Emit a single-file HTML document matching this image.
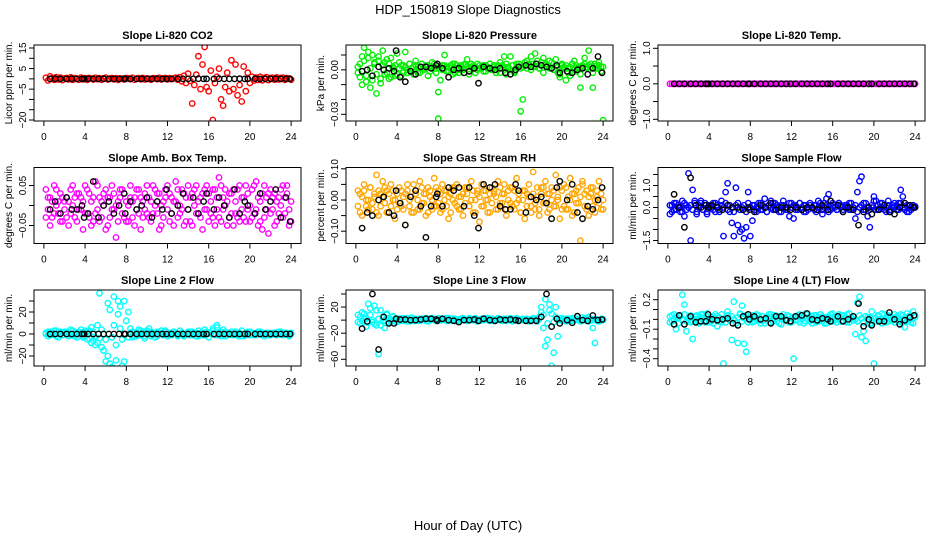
<!DOCTYPE html>
<html><head><meta charset="utf-8"><style>
html,body{margin:0;padding:0;background:#fff;}
svg{display:block;font-family:"Liberation Sans",Arial,sans-serif;}
</style></head><body>
<svg id="chart" width="936" height="540" viewBox="0 0 936 540" xmlns="http://www.w3.org/2000/svg">
<text x="468" y="14" font-size="13" text-anchor="middle">HDP_150819  Slope Diagnostics</text>
<text x="468" y="530" font-size="13" text-anchor="middle">Hour of Day (UTC)</text>
</svg>
<script>
const hoursColored=[0.2,0.4,0.6,0.8,1.0,1.2,1.4,1.6,1.8,2.0,2.2,2.4,2.6,2.8,3.0,3.2,3.4,3.6,3.8,4.0,4.2,4.4,4.6,4.8,5.0,5.2,5.4,5.6,5.8,6.0,6.2,6.4,6.6,6.8,7.0,7.2,7.4,7.6,7.8,8.0,8.2,8.4,8.6,8.8,9.0,9.2,9.4,9.6,9.8,10.0,10.2,10.4,10.6,10.8,11.0,11.2,11.4,11.6,11.8,12.0,12.2,12.4,12.6,12.8,13.0,13.2,13.4,13.6,13.8,14.0,14.2,14.4,14.6,14.8,15.0,15.2,15.4,15.6,15.8,16.0,16.2,16.4,16.6,16.8,17.0,17.2,17.4,17.6,17.8,18.0,18.2,18.4,18.6,18.8,19.0,19.2,19.4,19.6,19.8,20.0,20.2,20.4,20.6,20.8,21.0,21.2,21.4,21.6,21.8,22.0,22.2,22.4,22.6,22.8,23.0,23.2,23.4,23.6,23.8,24.0];
const hoursBlack=[0.6,1.1,1.6,2.2,2.7,3.2,3.7,3.9,4.3,4.8,5.3,5.8,6.3,6.8,7.3,7.8,7.9,8.4,9.0,9.5,10.0,10.5,11.0,11.5,11.9,12.4,13.0,13.5,14.0,14.5,15.0,15.5,15.8,16.5,17.0,17.5,18.0,18.5,19.0,19.5,19.8,20.5,21.0,21.5,22.0,22.5,23.0,23.5,23.9];
const xTicks=[0,4,8,12,16,20,24];

const co2A=[0.5,-0.8,1.2,0.3,-0.5,0.8,-0.3,0.6,-0.6,0.2,0.4,-0.2,0.7,-0.5,0.3,0.1,-0.4,0.6,-0.2,0.3,-0.5,0.4,0.2,-0.3,0.5,-0.1,0.3,-0.4,0.2,0.6,-0.3,0.1,0.4,-0.2,0.3,-0.5,0.2,0.1,-0.3,0.4,0.2,-0.1,0.5,-0.4,0.1,0.3,-0.2,0.4,-0.3,0.2,0.1,-0.4,0.3,0.2,-0.1,0.5,-0.3,0.2,0.4,-0.2,0.3,-0.1,0.2,0.6,-0.4,0.8,-1.2,1.5,-2,2.5,-1,-12,-3,2,11,-5,7,15.5,-4,-6,4,-20,-2,1,5,-10,-13,-4,3,-6,9,-5,7,-8,-3,-11,6,-6,3,-2,1,-0.8,0.6,-0.5,1,-0.7,0.4,0.8,-0.6,0.3,0.5,-0.4,0.7,-0.3,0.4,0.6,-0.5,0.3,0.2,-0.4];
const co2K=[0,0.1,0,0,0.1,0,0,0,0.1,0,0,0.1,0,0,0,0.1,0,0,0,0.1,0,0,0.1,0,0,0,0.1,0,0,0,0.1,0,0,0,0.1,0,0,0,0.1,0,0,0.1,0,0,0,0.1,0,0,0];

const presA=[.002,-.005,.009,.015,-.008,.012,-.012,.010,.004,-.016,.006,-.009,.013,-.003,.007,-.006,.008,.002,-.004,.011,.005,-.004,.003,.012,-.002,.004,.001,-.003,.006,.002,-.002,.004,.001,.003,-.004,.002,.005,.001,-.002,-.033,-.007,.003,.010,.002,-.001,.003,-.003,.004,.001,-.002,.003,.000,.004,.007,-.001,.002,.003,-.002,.004,.001,.002,-.001,.003,.001,.004,.000,.002,-.002,.003,.005,.001,.009,-.003,.002,.009,.003,-.001,.004,.002,-.028,-.020,.003,.006,.004,.009,.002,.011,.004,.001,.005,.008,.003,.002,.006,.001,.004,.007,-.002,-.005,.003,.002,-.007,.001,-.004,.004,.006,-.001,.002,-.012,.003,.008,.002,.013,.004,-.012,.001,.003,.005,.002,-.034];
const presB=[-.002,.004,-.010,.006,-.004,.008,.001,-.007,.005,-.003,.009,-.006,.003,.005,-.002,.004,-.005,.001,.003,-.003,.001,.003,-.002,.002,.000,.004,-.001,.002,.003,-.002,.001,.004,.000,.002,.003,-.001,.002,.004,.001,-.015,.002,.000,.003,-.001,.002,.001,.004,-.002,.003,.000,.002,.001,.003,.002,-.003,.004,.001,.002,.000,.003,.001,.003,-.001,.002,.004,.001,.003,.000,.002,-.002,.003,.002,.004,.001,.000,.003,-.002,.002,.004,.001,.002,.005,.001,.003,.000,.004,.002,.006,.001,.003,-.002,.004,.002,.001,.005,.000,.003,.002,-.003,.004,.001,.003,-.002,.002,.004,.000,.003,.001,-.003,.002,.004,.001,.003,.002,-.002,.004,.001,.003,-.001,.002];
const presK=[-.001,.000,-.004,.002,.000,.001,-.001,.013,-.005,-.008,-.001,-.003,.002,.002,.001,.003,.004,.001,-.005,.000,.001,-.002,-.001,.001,-.009,.002,.001,.000,.001,-.002,-.003,.000,.002,.003,.002,.004,.003,.002,.001,.003,-.002,-.001,-.002,.000,.001,-.003,.001,.009,-.002];

const tempA=[0,0,0,0,0,0,0,0,0,0,0,0,0,0,0,0,0,0,0,0,0,0,0,0,0,0,0,0,0,0,0,0,0,0,0,0,0,0,0,0,0,0,0,0,0,0,0,0,0,0,0,0,0,0,0,0,0,0,0,0,0,0,0,0,0,0,0,0,0,0,0,0,0,0,0,0,0,0,0,0,0,0,0,0,0,0,0,0,0,0,0,0,0,0,0,0,0,0,0,0,0,0,0,0,0,0,0,0,0,0,0,0,0,0,0,0,0,0,0,0];
const tempK=[0,0,0,0,0,0,0,0,0,0,0,0,0,0,0,0,0,0,0,0,0,0,0,0,0,0,0,0,0,0,0,0,0,0,0,0,0,0,0,0,0,0,0,0,0,0,0,0,0];

const boxA=[.04,-.01,.02,-.03,.05,.00,-.02,.03,-.04,.01,.02,-.05,.04,.00,-.03,.03,-.01,.02,-.06,.05,-.02,.03,.01,-.04,.06,-.01,.02,-.03,.00,.04,-.05,.02,-.01,.03,-.08,.01,.04,-.02,.03,-.04,.00,.05,-.03,.02,-.01,.04,-.06,.01,.03,-.02,.02,-.04,.05,.00,-.02,.03,-.05,.01,.04,-.01,.03,-.02,.01,.06,-.03,.00,.04,-.05,.02,-.01,-.04,.03,.00,.05,-.02,.02,-.06,.04,-.01,.03,.01,-.03,.04,-.01,.07,-.04,.02,.00,-.05,.03,-.02,.04,.01,-.03,.05,-.01,.02,-.04,.03,.00,.04,-.02,.06,-.05,.01,.03,-.03,.02,-.07,.04,-.01,.03,-.04,.02,.00,.05,-.02,.03,-.05,.01];
const boxB=[-.03,.02,-.05,.01,-.02,.04,.01,-.04,.02,-.01,-.03,.01,-.02,.05,.02,-.04,.03,-.01,.01,-.02,.04,-.03,-.05,.02,-.02,.05,-.04,.01,.03,-.06,.02,-.03,.05,-.01,.00,-.04,.02,.04,-.03,.01,-.04,.02,.01,-.05,.04,-.02,.02,-.03,-.01,.05,-.03,.01,-.02,.04,.03,-.06,.00,-.03,.02,.05,-.04,.02,-.05,.01,.04,-.02,-.01,.03,-.04,.05,.02,-.05,.04,-.02,.01,-.03,.03,-.01,.05,-.04,-.02,.04,-.05,.02,-.03,.05,-.01,.04,.01,-.03,.03,-.05,-.02,.04,-.04,.02,-.03,.05,-.01,-.04,-.03,.05,-.01,.02,-.04,-.06,.05,-.01,.03,-.02,.02,-.05,.01,-.02,.04,-.03,.02,.05,-.01,-.04];
const boxK=[-.01,.01,-.02,.02,-.01,-.01,.00,-.03,-.02,.06,-.03,.00,.01,-.02,.00,.03,-.02,.01,-.01,.00,.02,-.03,.01,-.01,.04,-.02,.00,.03,-.01,.02,-.02,.01,.03,-.01,.02,.00,-.03,.04,-.02,.01,.00,-.02,.03,-.01,.01,.04,-.03,.02,-.04];

const rhA=[.03,-.04,.01,.05,-.02,.00,.04,-.03,.02,.08,-.05,.02,.06,-.01,.03,-.04,.05,.00,-.06,.02,.04,-.02,.01,-.08,.03,.00,-.04,.05,.02,-.03,.06,-.01,.02,-.05,.04,.01,-.03,.07,-.02,.03,-.04,.05,.00,.03,-.06,.02,.04,-.01,.05,-.03,.01,-.05,.04,.02,-.02,.06,-.04,.00,.03,-.07,.05,-.02,.03,.00,-.04,.04,.02,-.03,.06,-.01,.02,.05,-.05,.03,-.01,.04,-.03,.07,.00,-.04,.03,-.06,.02,.05,-.02,.09,-.03,.01,-.05,.04,-.01,.06,-.04,.02,.04,-.02,.08,.00,-.06,.03,.05,-.03,.01,.07,-.05,.02,-.01,.04,-.13,.06,-.02,.03,-.05,.02,.04,-.04,.01,.06,-.03,.00];
const rhB=[-.02,.02,-.05,.03,.00,-.03,.04,-.01,.01,-.04,.03,-.02,.01,.04,-.04,.02,-.02,.03,.00,-.03,-.01,.03,-.03,.02,.05,-.02,.01,-.04,.03,.00,-.03,.04,-.01,.02,-.04,.03,.00,-.02,.04,-.01,.02,-.03,.03,-.02,.01,-.04,.00,.04,-.02,.01,-.03,.02,-.01,.04,-.02,.00,.03,-.04,.02,.01,-.02,.03,.00,-.04,.02,-.01,.03,.01,-.03,.04,-.01,.02,-.03,.00,.04,-.02,.03,-.01,.02,-.04,.00,.03,-.02,.01,-.04,.02,-.01,.04,-.03,.02,.04,-.01,.02,-.03,.00,.03,-.02,.01,.04,-.03,-.02,.04,-.03,.00,.02,-.04,.03,-.01,.01,.05,.02,-.03,.01,.04,-.02,.00,.03,-.01,.02,-.03];
const rhK=[-.09,-.04,-.05,.00,.01,-.04,-.05,.03,-.01,-.08,.01,.03,-.02,-.12,-.02,.01,.02,-.02,.04,.03,.04,-.02,.04,-.05,-.09,.05,.04,.05,-.02,-.03,-.03,.05,.03,-.04,.01,.00,.01,-.01,-.06,.04,.06,.00,.05,-.04,-.06,-.02,-.03,.00,.04];

const flowA=[-.3,.1,-.1,.2,.0,-.2,.3,-.4,.1,1.55,-1.5,.8,.3,-.2,.1,.3,-.1,.2,-.3,.1,.0,.2,-.2,.1,-.1,.3,-1.3,.7,1.1,-.2,-.7,-1.3,.9,-.8,-1.1,-1.0,-1.4,-.9,.7,-1.3,-.6,.1,-.2,.0,.2,-.1,.4,-.2,.1,.3,-.1,.2,.0,-.2,.1,.3,-.1,.0,-.4,.2,-.5,.1,-.1,.2,.0,-.2,.1,-.1,.2,.0,.1,-.2,.3,.0,-.3,.2,.4,.6,-.1,.2,.0,-.1,.2,.1,-.2,.0,.1,.2,-.1,.0,-.5,.7,1.2,1.4,.2,-.1,-.4,-.9,.0,.5,.3,-.1,.2,.0,.1,-.2,.3,-.1,.0,.2,-.1,.2,.8,.5,.0,-.2,.1,-.1,.0,.05];
const flowB=[.1,-.2,.2,-.1,.1,.0,-.2,.2,-.1,.0,.1,-.1,.2,-.3,.0,.2,-.1,.1,-.2,.0,.1,-.1,.2,.0,-.2,.1,.0,.2,-.1,.1,.0,-.2,.1,.2,-.1,.0,.1,-.2,.2,.0,.1,-.1,.0,.2,-.1,.1,.0,-.2,.1,.0,.2,-.1,.1,.0,-.2,.1,.0,-.1,.2,.0,.1,-.1,.0,.2,-.1,.1,-.2,.0,.1,.0,-.1,.1,.0,.2,-.1,.0,.1,-.2,.1,.0,.1,-.1,.2,.0,-.1,.1,.0,-.1,.2,.0,.1,-.2,.0,.1,-.1,.2,.0,-.1,.1,.3,-.1,.1,.0,.2,-.1,.0,.1,-.2,.1,.0,.1,-.1,.2,.0,-.1,.1,-.2,.0,.1,.0];
const flowK=[.6,.0,-.9,1.35,.1,.0,.1,.0,.1,.0,-.1,.1,.0,.0,-.1,.0,-.1,-.2,.1,.0,.2,-.1,.0,.0,-.1,.0,-.1,.0,.0,-.1,.1,-.1,.3,.1,-.2,.0,-.1,-.8,-.2,.0,-.3,-.1,.1,-.2,-.3,.0,.2,.1,.0];

const l2A=[1,-2,2,0,-1,3,-3,1,-1,2,0,-2,4,-1,1,-3,2,0,-2,3,2,-4,6,-6,-10,-8,37,-12,-15,-25,28,-27,-30,34,-10,18,25,-29,30,-35,20,5,-3,1,-2,4,-1,2,-4,3,5,-2,1,-3,2,0,3,-1,2,-2,1,-1,2,0,-2,3,1,-1,0,2,-1,2,1,-2,3,0,-1,4,2,-3,1,5,0,8,-1,2,4,-2,1,0,2,-1,0,1,-2,3,-1,0,2,-1,1,0,-1,2,0,1,-2,0,1,-1,0,1,-1,0,2,-1,0,1,-1,0];
const l2B=[0,2,-1,1,3,-2,0,2,-1,1,2,0,-1,3,-2,1,0,4,-3,1,-5,3,-8,2,-3,8,-4,4,-15,-5,-20,22,-3,8,-24,30,5,-5,-25,12,-3,0,2,-2,1,-1,3,0,-2,1,0,2,-1,1,-2,0,1,-1,3,0,-1,0,2,1,-1,0,1,-2,0,1,2,-1,0,1,-2,1,0,-1,2,0,0,3,-1,6,1,-2,0,2,-1,1,-1,0,2,-1,1,0,-2,1,0,2,0,-1,1,0,2,-1,0,1,-1,0,1,0,-1,2,0,-1,1,0,-2,1];
const l2K=[0,0,0,0,0,0,0,0,0,0,0,0,0,0,0,0,0,0,0,0,0,0,0,0,0,0,0,0,0,0,0,0,0,0,0,0,0,0,0,0,0,0,0,0,0,0,0,0,0];

const l3A=[8,-5,12,3,-10,25,18,-3,22,-8,-52,15,-2,-12,8,3,-2,5,1,-3,2,-1,3,0,-2,1,4,-1,2,0,-1,2,1,3,-2,0,2,1,-1,3,1,0,2,-1,3,1,0,2,-2,1,0,3,1,-1,2,0,1,3,0,-1,2,0,1,3,-1,2,0,1,2,0,1,2,-1,0,3,1,0,2,-1,1,0,1,2,-1,0,3,1,-2,2,12,-12,32,-30,15,-70,-50,20,-25,0,3,1,-2,2,0,-1,3,1,0,-2,4,2,-1,5,0,-12,-35,1,-2,0,1];
const l3B=[-3,5,-1,10,2,-4,8,0,-6,15,2,-8,4,0,10,-3,1,6,-2,2,0,2,-1,1,3,-2,0,2,1,-1,2,0,1,-1,2,1,3,0,-1,2,0,2,1,3,-1,0,2,1,0,-2,2,1,0,-1,3,2,0,1,-2,1,0,1,3,0,2,-1,1,0,3,1,-1,0,2,1,0,-2,1,3,0,1,2,0,1,-2,1,0,2,-1,5,20,8,-40,-5,24,10,-3,5,0,2,-1,0,2,1,-1,3,0,1,2,-1,0,1,3,-2,2,0,1,-1,0,2,0];
const l3K=[-13,-2,40,-45,5,-5,-5,2,1,1,0,0,1,2,2,1,-1,2,0,-1,-3,0,0,1,-1,2,0,-1,1,0,1,0,-1,-1,-1,-1,5,40,-10,2,-5,0,-4,6,0,-1,7,0,1];

const l4A=[.03,-.02,.05,-.10,.01,.04,.25,.15,-.12,.02,-.03,-.20,.00,.04,-.02,.05,.01,-.03,.06,.00,-.02,.03,.05,-.07,.02,-.03,-.45,.01,.08,-.01,-.21,.18,-.04,-.24,.06,.14,-.25,-.33,.02,-.01,.04,-.02,.05,.00,-.04,.03,-.01,.02,.05,-.03,.01,.04,-.02,.03,-.05,.02,.00,.04,-.03,.01,-.40,.03,-.01,.05,.02,-.04,.06,.00,-.02,.03,.04,-.03,.01,.05,-.02,.02,-.04,.03,.00,.06,-.01,.03,.05,-.02,.04,.01,-.03,.06,.02,-.01,-.15,.17,.23,-.18,-.12,-.22,.02,-.05,.08,-.45,.01,.04,-.02,.06,.00,-.03,.04,.02,-.01,.05,.03,-.02,.05,.00,-.08,.06,.02,-.03,.08,.04];
const l4B=[-.03,.04,-.01,.02,-.04,.03,.00,.05,-.02,.01,.04,-.02,.03,.00,-.04,.02,.05,-.01,.03,-.03,.02,-.04,.01,.03,-.02,.05,.00,-.03,.04,-.01,.03,.00,-.04,.02,.05,-.02,.01,.04,-.03,.02,-.03,.02,.00,.04,-.01,.03,-.04,.01,.02,.05,-.02,.03,.01,-.04,.02,.05,-.01,.00,.03,-.03,.02,-.01,.04,-.03,.01,.03,-.02,.05,.00,-.04,.01,.04,-.02,.00,.03,-.04,.02,.01,.05,-.02,.03,-.03,.00,.04,-.01,.02,.05,-.03,.01,.03,.00,-.02,.04,.01,-.03,.03,-.01,.02,-.04,.01,-.02,.03,.00,-.04,.05,.01,-.02,.03,.00,-.03,.02,.00,-.03,.04,.01,-.02,.03,.00,-.04,.02];
const l4K=[-.05,.04,-.05,.03,-.03,-.02,-.02,.05,.00,-.01,.00,.01,-.04,-.06,.03,.05,.00,.03,.00,.01,-.04,.03,.03,-.01,-.02,.03,.04,.06,.00,-.01,.01,.00,-.02,.03,-.02,.00,.03,.16,-.07,.00,-.06,-.02,-.02,.07,.00,-.05,-.01,.02,.04];

const co2Ticks=[-20,-15,-10,-5,0,5,10,15], co2Labels=[15,5,-5,-20];
const presTicks=[-0.03,-0.02,-0.01,0,0.01], presLabels=[0,-0.03];
const tempTicks=[-1,-0.5,0,0.5,1], tempLabels=[1,0,-1];
const boxTicks=[-0.05,0,0.05], boxLabels=[0.05,-0.05];
const rhTicks=[-0.1,-0.05,0,0.05,0.1], rhLabels=[0.1,0,-0.1];
const flowTicks=[-1.5,-1,-0.5,0,0.5,1,1.5], flowLabels=[1,0,-1.5];
const l2Ticks=[-20,-10,0,10,20,30], l2Labels=[20,0,-20];
const l3Ticks=[-60,-40,-20,0,20,40], l3Labels=[20,-20,-60];
const l4Ticks=[-0.4,-0.3,-0.2,-0.1,0,0.1,0.2], l4Labels=[0.2,-0.1,-0.4];

const panels=[
 {name:'co2',title:'Slope Li-820 CO2',ylab:'Licor ppm per min.',col:0,row:0,color:'#ff0000',series:[co2A],black:co2K,ticks:co2Ticks,labels:co2Labels,dec:0,ref:[15,3,-20,75]},
 {name:'pressure',title:'Slope Li-820 Pressure',ylab:'kPa per min.',col:1,row:0,color:'#00ee00',series:[presA,presB],black:presK,ticks:presTicks,labels:presLabels,dec:2,ref:[0.01,10,-0.03,69.3]},
 {name:'li820-temp',title:'Slope Li-820 Temp.',ylab:'degrees C per min.',col:2,row:0,color:'#ff00ff',series:[tempA],black:tempK,ticks:tempTicks,labels:tempLabels,dec:1,ref:[1,3.3,-1,74.3]},
 {name:'amb-box-temp',title:'Slope Amb. Box Temp.',ylab:'degrees C per min.',col:0,row:1,color:'#ff00ff',series:[boxA,boxB],black:boxK,ticks:boxTicks,labels:boxLabels,dec:2,ref:[0.05,18,-0.05,58]},
 {name:'gas-stream-rh',title:'Slope Gas Stream RH',ylab:'percent per min.',col:1,row:1,color:'#ffa500',series:[rhA,rhB],black:rhK,ticks:rhTicks,labels:rhLabels,dec:2,ref:[0.1,1.3,-0.1,63.7]},
 {name:'sample-flow',title:'Slope Sample Flow',ylab:'ml/min per min.',col:2,row:1,color:'#0000ff',series:[flowA,flowB],black:flowK,ticks:flowTicks,labels:flowLabels,dec:1,ref:[1,18,0,40]},
 {name:'line2-flow',title:'Slope Line 2 Flow',ylab:'ml/min per min.',col:0,row:2,color:'#00ffff',series:[l2A,l2B],black:l2K,ticks:l2Ticks,labels:l2Labels,dec:0,ref:[20,22,-20,66]},
 {name:'line3-flow',title:'Slope Line 3 Flow',ylab:'ml/min per min.',col:1,row:2,color:'#00ffff',series:[l3A,l3B],black:l3K,ticks:l3Ticks,labels:l3Labels,dec:0,ref:[40,4,-60,69.3]},
 {name:'line4-flow',title:'Slope Line 4 (LT) Flow',ylab:'ml/min per min.',col:2,row:2,color:'#00ffff',series:[l4A,l4B],black:l4K,ticks:l4Ticks,labels:l4Labels,dec:1,ref:[0.2,9.7,-0.4,68.7]}
];

const NS='http://www.w3.org/2000/svg';
const svg=document.getElementById('chart');
function mk(tag,attrs,parent){const e=document.createElementNS(NS,tag);for(const k in attrs)e.setAttribute(k,attrs[k]);(parent||svg).appendChild(e);return e;}

panels.forEach(p=>{
  const left=34+p.col*312, W=267, top=45+p.row*122.5, H=76, bottom=top+H;
  const xScale=h=>left+(h+0.96)/25.92*W;
  const [v1,o1,v2,o2]=p.ref;
  const yScale=v=>top+o1+(v-v1)*(o2-o1)/(v2-v1);
  const g=mk('g',{});
  
  
  const cp=mk('clipPath',{id:'clip-'+p.name},g);
  mk('rect',{x:left,y:top,width:W,height:H},cp);
  const t=mk('text',{x:left+W/2,y:top-6,'font-size':11,'font-weight':'bold','text-anchor':'middle'},g);
  t.textContent=p.title;
  
  
  const yl=mk('text',{x:0,y:0,'font-size':10,'text-anchor':'middle',transform:`translate(${left-22},${top+H/2}) rotate(-90)`},g);
  yl.textContent=p.ylab;
  
  
  // points
  const pts=mk('g',{'clip-path':`url(#clip-${p.name})`,fill:'none','stroke-width':1.4},g);
  
  
  p.series.forEach(s=>{
    s.forEach((v,i)=>{
      const c=mk('circle',{cx:xScale(hoursColored[i]).toFixed(1),cy:yScale(v).toFixed(1),r:2.7,stroke:p.color},pts);
      
      
    });
  });
  p.black.forEach((v,i)=>{
    const c=mk('circle',{cx:xScale(hoursBlack[i]).toFixed(1),cy:yScale(v).toFixed(1),r:2.7,stroke:'#000'},pts);
    
    
  });
  // box
  const b=mk('rect',{x:left,y:top,width:W,height:H,fill:'none',stroke:'#000','stroke-width':1},g);
  
  
  // y ticks
  const ya=mk('g',{stroke:'#000','stroke-width':1},g);
  
  
  p.ticks.forEach(v=>{mk('line',{x1:left-5,x2:left,y1:yScale(v),y2:yScale(v)},ya);});
  p.labels.forEach(v=>{
    const tl=mk('text',{x:0,y:0,'font-size':10,'text-anchor':'middle',stroke:'none',transform:`translate(${left-8},${yScale(v)}) rotate(-90)`},g);
    tl.textContent=(v===0&&p.dec===0)?'0':v.toFixed(p.dec).replace('-','\u2212');
    
    
  });
  // x ticks
  const xa=mk('g',{stroke:'#000','stroke-width':1},g);
  
  
  xTicks.forEach(h=>{
    mk('line',{x1:xScale(h),x2:xScale(h),y1:bottom,y2:bottom+5},xa);
    const tl=mk('text',{x:xScale(h),y:bottom+19,'font-size':10,'text-anchor':'middle'},g);
    tl.textContent=h;
    
    
  });
});
</script>
</body></html>
